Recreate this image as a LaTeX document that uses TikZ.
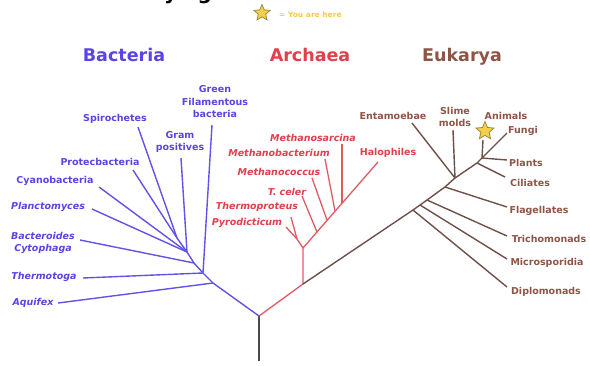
\documentclass[tikz,border=0pt]{standalone}
\usepackage{fontspec}
\setmainfont{DejaVu Sans}
\usetikzlibrary{shapes.geometric}
\definecolor{bact}{HTML}{5A44E6}
\definecolor{bactline}{HTML}{6052EA}
\definecolor{arch}{HTML}{E0404C}
\definecolor{archline}{HTML}{E05A62}
\definecolor{euk}{HTML}{8E5546}
\definecolor{eukline}{HTML}{6E5048}
\definecolor{trunk}{HTML}{4A4A4A}
\definecolor{staryellow}{HTML}{F5D04A}
\definecolor{staredge}{HTML}{9A8A40}
\definecolor{herecol}{HTML}{F2C94C}
\begin{document}
\begin{tikzpicture}[x=1pt,y=-1pt,
  lab/.style={font=\fontsize{9.5}{12.5}\selectfont\bfseries, inner sep=0pt, align=center},
  ilab/.style={lab, font=\fontsize{9.5}{12.5}\selectfont\bfseries\itshape},
  head/.style={font=\fontsize{17.5}{20}\selectfont\bfseries, inner sep=0pt},
  bline/.style={draw=bactline, line width=1.4pt},
  aline/.style={draw=archline, line width=1.3pt},
  eline/.style={draw=eukline, line width=1.4pt},
  yourstar/.style={star, star points=5, star point ratio=2.2, fill=staryellow, draw=staredge, line width=0.8pt, inner sep=0pt}]
\useasboundingbox (0,0) rectangle (590,365);
% title (cut off at the top, as in the reference)
\node[anchor=base west, font=\fontsize{20}{24}\selectfont\bfseries, inner sep=0pt] (title) at (135,-1) {Phylogenetic Tree of Life};
% legend
\node[yourstar, minimum size=17pt] (legstar) at (262,13) {};
\node[font=\fontsize{7.5}{9}\selectfont\bfseries, text=herecol, inner sep=0pt, anchor=west] (legtext) at (279,15) {= You are here};
% headers
\node[head, text=bact] (hbact) at (124,55) {Bacteria};
\node[head, text=arch] (harch) at (310,55) {Archaea};
\node[head, text=euk] (heuk) at (462,57) {Eukarya};

% junctions
\coordinate (base) at (259,361);
\coordinate (root) at (259,316);
\coordinate (b1) at (213,283);
\coordinate (b2) at (203,273);
\coordinate (b3) at (194,263);
\coordinate (b4) at (187,252);
\coordinate (b5) at (177,238);
\coordinate (a0) at (303,284);
\coordinate (a1) at (303,248);
\coordinate (a2) at (297,239);
\coordinate (a3) at (317,232);
\coordinate (a4) at (327,220);
\coordinate (a5) at (335,211);
\coordinate (a6) at (342,203);
\coordinate (e1) at (413,210);
\coordinate (e2) at (420,205);
\coordinate (e3) at (427,200);
\coordinate (e4) at (445,187);
\coordinate (e5) at (455,178);
\coordinate (e6) at (477,163);
\coordinate (e7) at (482,158);

% tips
\coordinate (tAqu) at (58,303);
\coordinate (tThg) at (83,278);
\coordinate (tGreen) at (212,125);
\coordinate (tBac) at (80,240);
\coordinate (tGram) at (181,158);
\coordinate (tPla) at (92,209);
\coordinate (tCya) at (99,187);
\coordinate (tSpi) at (138,127);
\coordinate (tPro) at (133,170);
\coordinate (tTpr) at (291,217);
\coordinate (tPyr) at (286,227);
\coordinate (tHal) at (378,162);
\coordinate (tTce) at (302,196);
\coordinate (tMcc) at (312,178);
\coordinate (tMbt) at (325,159);
\coordinate (tMsa) at (342,144);
\coordinate (tDip) at (507,287);
\coordinate (tMic) at (507,259);
\coordinate (tTri) at (507,236);
\coordinate (tFla) at (507,207);
\coordinate (tEnt) at (412,123);
\coordinate (tSli) at (453,130);
\coordinate (tCil) at (505,177);
\coordinate (tPla2) at (507,160);
\coordinate (tAni) at (483,140);
\coordinate (tFun) at (507,133);

% trunk
\draw[draw=trunk, line width=2.4pt] (base) -- (root);
% bacteria
\draw[bline] (root) -- (b1) -- (b2) -- (b3) -- (b4) -- (b5);
\draw[bline] (b1) -- (tAqu);
\draw[bline] (b2) -- (tThg);
\draw[bline] (b2) -- (tGreen);
\draw[bline] (b3) -- (tBac);
\draw[bline] (b4) -- (tGram);
\draw[bline] (b4) -- (tPla);
\draw[bline] (b4) -- (tCya);
\draw[bline] (b5) -- (tSpi);
\draw[bline] (b5) -- (tPro);
% archaea
\draw[aline] (root) -- (a0) -- (a1) -- (a2);
\draw[aline] (a2) -- (tTpr);
\draw[aline] (a2) -- (tPyr);
\draw[aline] (a1) -- (tHal);
\draw[aline] (a3) -- (tTce);
\draw[aline] (a4) -- (tMcc);
\draw[aline] (a5) -- (tMbt);
\draw[aline] (a6) -- (tMsa);
% eukarya
\draw[eline] (a0) -- (e1) -- (e2) -- (e3) -- (e4) -- (e5) -- (e6) -- (e7) -- (tFun);
\draw[eline] (e1) -- (tDip);
\draw[eline] (e2) -- (tMic);
\draw[eline] (e3) -- (tTri);
\draw[eline] (e4) -- (tFla);
\draw[eline] (e5) -- (tEnt);
\draw[eline] (e5) -- (tSli);
\draw[eline] (e6) -- (tCil);
\draw[eline] (e7) -- (tPla2);
\draw[eline] (e7) -- (tAni);
\node[yourstar, minimum size=19pt] (herestar) at (485,131) {};

% bacteria labels
\node[lab, text=bact] (lGreen) at (215,102) {Green\\Filamentous\\bacteria};
\node[lab, text=bact] (lSpi) at (115,119) {Spirochetes};
\node[lab, text=bact] (lGram) at (180,142) {Gram\\positives};
\node[lab, text=bact] (lPro) at (100,162) {Protecbacteria};
\node[lab, text=bact] (lCya) at (55,181) {Cyanobacteria};
\node[ilab, text=bact] (lPla) at (48,207) {Planctomyces};
\node[ilab, text=bact] (lBac) at (43,243) {Bacteroides\\Cytophaga};
\node[ilab, text=bact] (lThg) at (44,277) {Thermotoga};
\node[ilab, text=bact] (lAqu) at (33,303) {Aquifex};
% archaea labels
\node[ilab, text=arch] (lMsa) at (313,138) {Methanosarcina};
\node[ilab, text=arch] (lMbt) at (279,153) {Methanobacterium};
\node[ilab, text=arch] (lMcc) at (279,172) {Methanococcus};
\node[ilab, text=arch] (lTce) at (287,192) {T. celer};
\node[ilab, text=arch] (lTpr) at (257,207) {Thermoproteus};
\node[ilab, text=arch] (lPyr) at (247,223) {Pyrodicticum};
\node[lab, text=arch] (lHal) at (388,153) {Halophiles};
% eukarya labels
\node[lab, text=euk] (lEnt) at (393,116) {Entamoebae};
\node[lab, text=euk] (lSli) at (455,117) {Slime\\molds};
\node[lab, text=euk] (lAni) at (506,116) {Animals};
\node[lab, text=euk] (lFun) at (523,131) {Fungi};
\node[lab, text=euk] (lPla2) at (526,163) {Plants};
\node[lab, text=euk] (lCil) at (530,183) {Ciliates};
\node[lab, text=euk] (lFla) at (539,211) {Flagellates};
\node[lab, text=euk] (lTri) at (549,239) {Trichomonads};
\node[lab, text=euk] (lMic) at (547,263) {Microsporidia};
\node[lab, text=euk] (lDip) at (546,292) {Diplomonads};
\end{tikzpicture}
\end{document}
